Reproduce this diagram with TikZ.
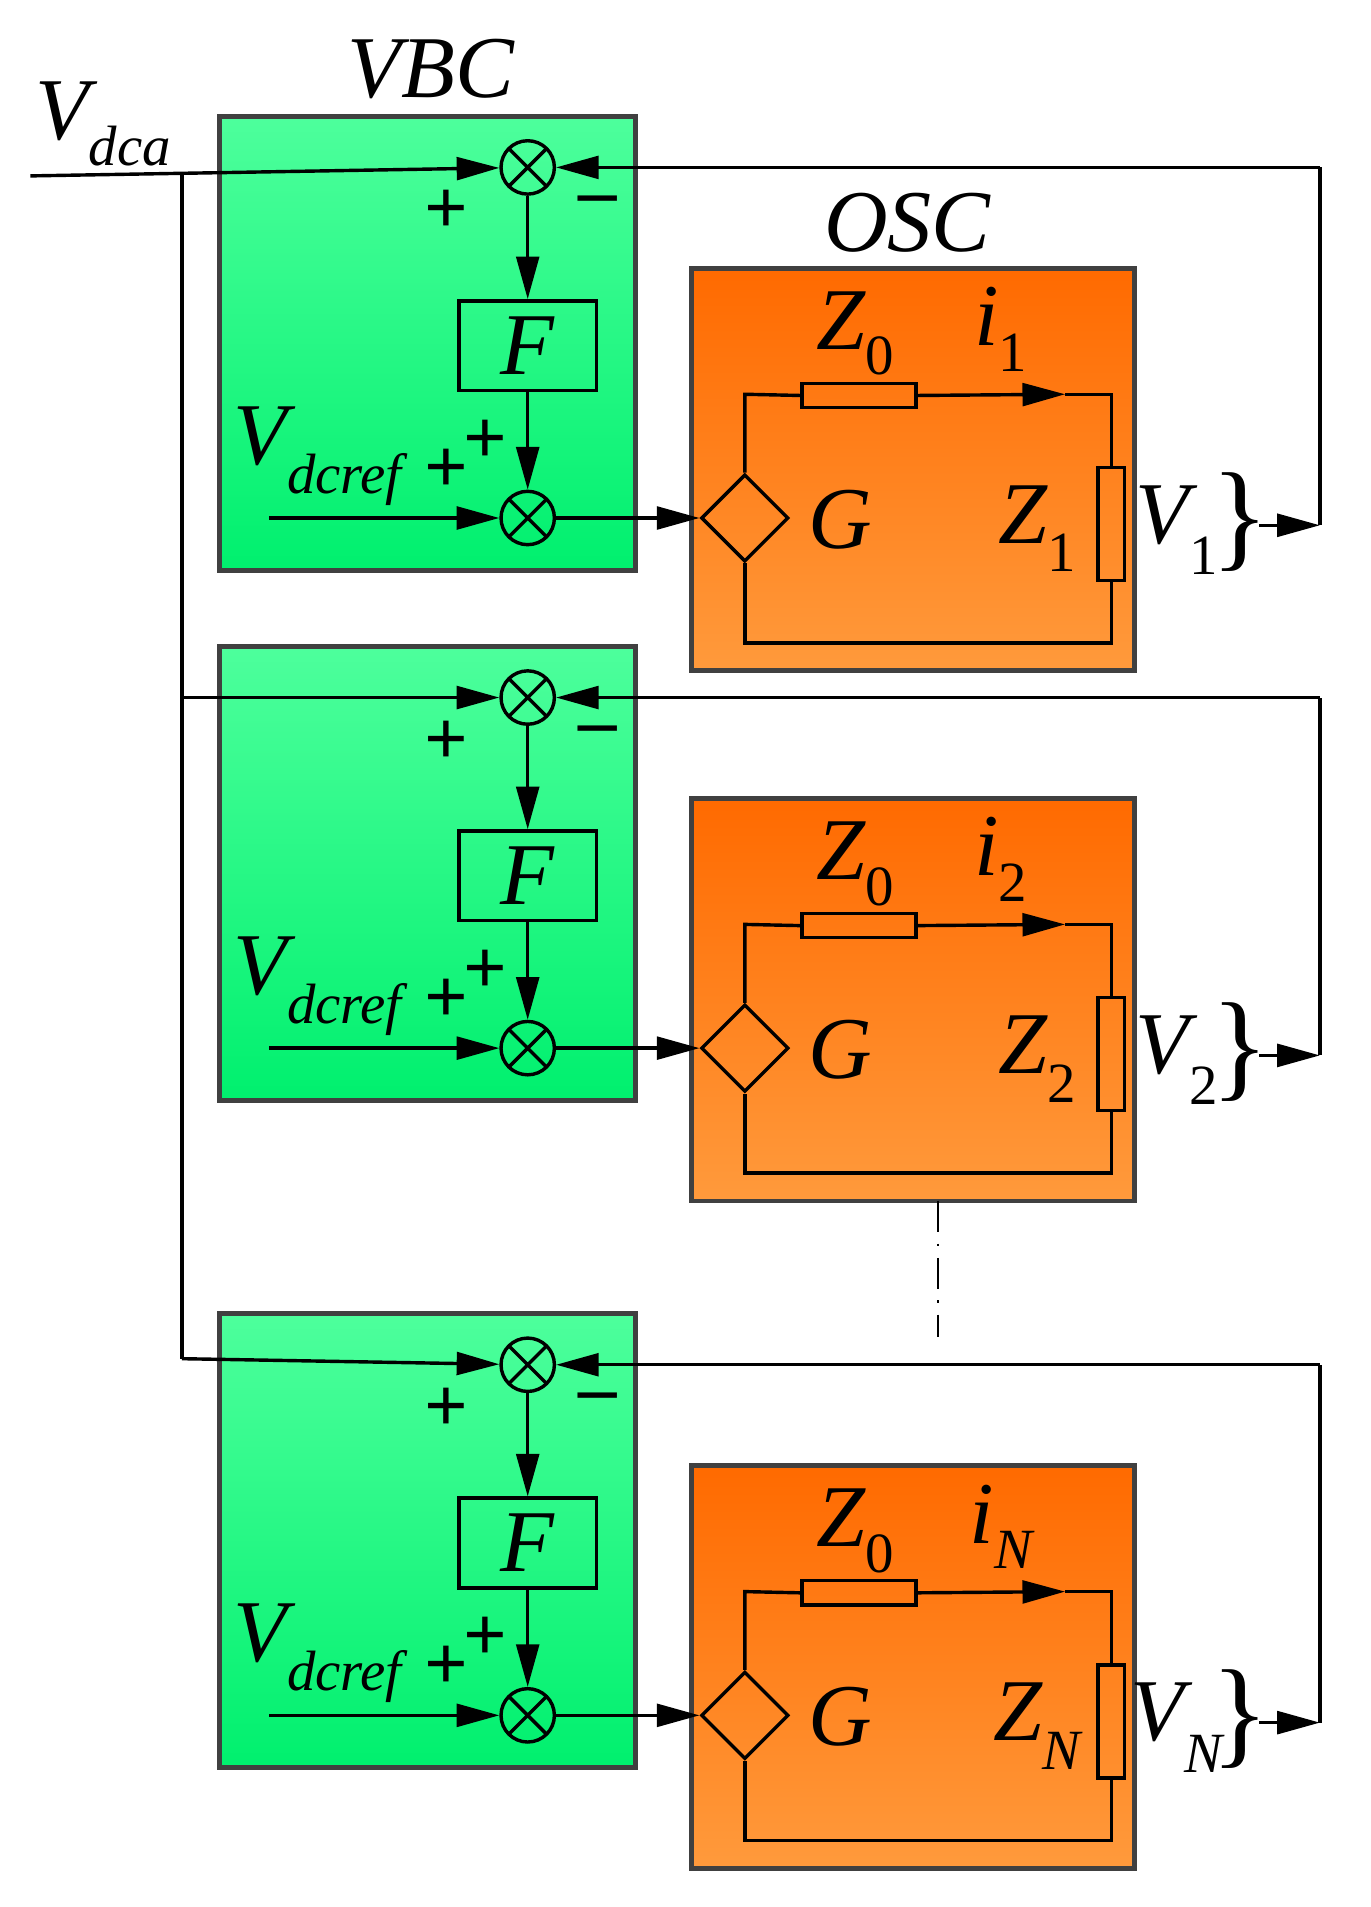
\documentclass[tikz,border=0pt]{standalone}
\usepackage{fontspec}
\setmainfont{Liberation Serif}
\usetikzlibrary{shapes.geometric,arrows.meta}
\definecolor{gtop}{HTML}{4DFF9C}
\definecolor{gbot}{HTML}{00F06E}
\definecolor{otop}{HTML}{FF6A00}
\definecolor{obot}{HTML}{FF9A3C}
\definecolor{frame}{HTML}{404040}
\newcommand{\BL}[1]{{\fontsize{62}{64}\selectfont\itshape #1}}
\newcommand{\SB}[1]{{\fontsize{40}{42}\selectfont #1}}
\begin{document}
\begin{tikzpicture}[x=0.03cm,y=-0.03cm,
  wire/.style={line width=2.4pt},
  arr/.style={wire,-{Triangle[length=30pt,width=16pt]}},
  gbox/.style={draw=frame,line width=3.5pt,top color=gtop,bottom color=gbot,shading angle=0},
  obox/.style={draw=frame,line width=3.5pt,top color=otop,bottom color=obot},
  sum/.style={circle,draw,line width=2.4pt,minimum size=44*0.03cm,inner sep=0pt,path picture={
     \draw[line width=2.4pt] (path picture bounding box.north west)--(path picture bounding box.south east)
     (path picture bounding box.north east)--(path picture bounding box.south west);}},
  fbox/.style={draw,line width=2.4pt,minimum width=113*0.03cm,minimum height=74*0.03cm,inner sep=0pt},
  res/.style={draw,line width=2.4pt,fill=none,inner sep=0pt},
  dia/.style={diamond,draw,line width=2.4pt,minimum size=72*0.03cm,inner sep=0pt},
  pm/.style={font=\fontsize{54}{54}\selectfont\bfseries}
]
\useasboundingbox (0,0) rectangle (1130,1572);
\node[anchor=base] (vbc) at (355,80) {\BL{VBC}};
\node[anchor=base] (osc) at (748,207) {\BL{OSC}};
\node[anchor=base] (vdca) at (85,115) {\BL{V}\raisebox{-18pt}{\SB{\itshape dca}}};
\coordinate (in) at (25,145);
\coordinate (bus) at (150,143);
\coordinate (busend) at (150,1120);
\draw[wire] (bus)--(busend);
\foreach \o/\k/\sh in {0/1/\upshape,437/2/\upshape,987/N/\itshape}{
  \begin{scope}[yshift=-\o*0.03cm]
  \path[gbox] (181,96) rectangle (524,470);
  \path[obox] (570,221) rectangle (935,553);
  \node[sum] (s1\k) at (435,138) {};
  \node[sum] (s2\k) at (435,427) {};
  \node[fbox] (f\k) at (435,285) {\BL{F}};
  \node[pm] (p1\k) at (368,175) {+};
  \node[pm] (m1\k) at (493,170) {\textendash};
  \node[pm] (p2\k) at (368,388) {+};
  \node[pm] (p3\k) at (400,364) {+};
  \node[anchor=base west,inner sep=0pt] (vref\k) at (192,383) {\BL{V}\raisebox{-20pt}{\SB{\itshape dcref}}};
  \coordinate (ri\k) at (222,427);
  \draw[arr] (ri\k)--(s2\k);
  \draw[arr] (s1\k)--(f\k);
  \draw[arr] (f\k)--(s2\k);
  \node[dia] (g\k) at (614,427) {};
  \draw[arr] (s2\k)--(g\k);
  \node[res,minimum width=94*0.03cm,minimum height=20*0.03cm] (z0\k) at (708,326) {};
  \node[res,minimum width=22*0.03cm,minimum height=93*0.03cm] (z1\k) at (916,432) {};
  \coordinate (tl\k) at (614,325);
  \coordinate (tr\k) at (916,325);
  \coordinate (br\k) at (916,530);
  \coordinate (bl\k) at (614,530);
  \coordinate (ia\k) at (878,325);
  \draw[wire] (g\k.north)--(tl\k)--(z0\k.west);
  \draw[arr] (z0\k.east)--(ia\k);
  \draw[wire] (ia\k)--(tr\k)--(z1\k.north);
  \draw[wire] (z1\k.south)--(br\k)--(bl\k)--(g\k.south);
  \node[anchor=base] (lz0\k) at (705,288) {\BL{Z}\raisebox{-18pt}{\SB{0}}};
  \node[anchor=base] (li\k) at (825,285) {\BL{i}\raisebox{-18pt}{\SB{\sh\k}}};
  \node[anchor=base] (lg\k) at (693,452) {\BL{G}};
  \node[anchor=base] (lz\k) at (855,448) {\BL{Z}\raisebox{-20pt}{\SB{\sh\k}}};
  \node[anchor=base] (lv\k) at (970,448) {\BL{V}\raisebox{-22pt}{\SB{\sh\k}}};
  \node[anchor=base,inner sep=0pt] (br2\k) at (1022,458) {{\fontsize{84}{84}\selectfont\}}};
  \coordinate (fbb\k) at (1088,433);
  \coordinate (fbt\k) at (1088,138);
  \coordinate (bs\k) at (1038,433);
  \draw[arr] (bs\k)--(fbb\k);
  \draw[wire] (fbb\k)--(fbt\k);
  \draw[arr] (fbt\k)--(s1\k);
  \end{scope}
}
\draw[arr] (in)--(s11);
\coordinate (b2) at (150,575);
\draw[arr] (b2)--(s12);
\draw[arr] (busend)--(s1N);
\coordinate (d1) at (773,990);
\coordinate (d2) at (773,1102);
\draw[line width=1.5pt,dash pattern=on 22pt off 8pt on 2pt off 8pt] (d1)--(d2);
\end{tikzpicture}
\end{document}
